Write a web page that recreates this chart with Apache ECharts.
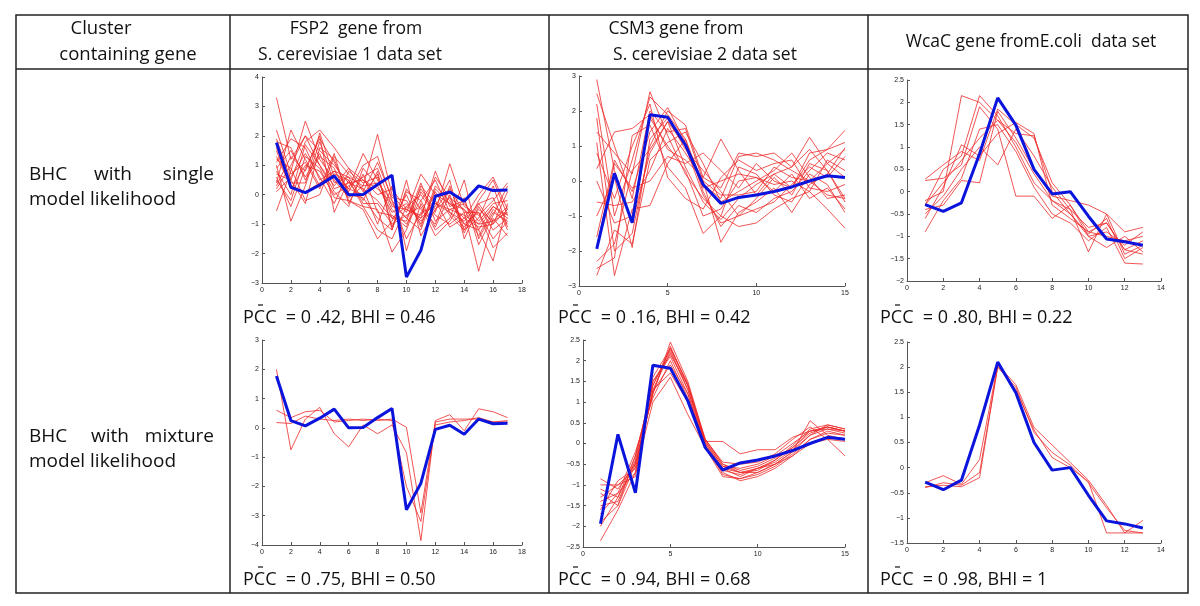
<!DOCTYPE html>
<html><head><meta charset="utf-8">
<script src="https://cdn.jsdelivr.net/npm/echarts@6/dist/echarts.min.js"></script>
<style>html,body{margin:0;padding:0;background:#fff}#c{width:1200px;height:606px}</style>
</head><body><div id="c"></div>
<script>
// ---------- DATA ----------
const fsp2Blue = [1.77, 0.25, 0.07, 0.33, 0.64, 0.0, 0.01, 0.35, 0.66, -2.8, -1.89, -0.05, 0.09, -0.22, 0.3, 0.14, 0.16];
const csm3Blue = [-1.94, 0.22, -1.19, 1.89, 1.82, 1.03, -0.1, -0.64, -0.47, -0.4, -0.3, -0.17, 0.0, 0.15, 0.1];
const wcacBlue = [-0.29, -0.44, -0.25, 0.85, 2.1, 1.49, 0.5, -0.05, 0.0, -0.55, -1.06, -1.12, -1.2];

const fsp2SingleRed = [
  [3.3, 1.2, 2.0, 1.5, 1.0, 0.4, 0.2, -0.2, -0.8, -0.4, -0.8, -0.3, -0.6, -1.1, -0.5, -0.9, -0.6],
  [1.9, 0.5, 1.8, 2.2, 1.6, 0.9, 0.5, 0.2, -0.3, -0.8, 0.2, -0.5, -0.1, -0.5, -1.0, -0.4, -0.8],
  [0.4, 2.2, 1.2, 0.3, 0.8, 0.2, 1.4, 0.5, -0.5, -1.0, -0.2, 0.5, -0.6, -0.9, -0.3, -1.0, -0.5],
  [-0.55, 0.8, 2.5, 1.2, 0.5, -0.1, 0.3, 2.05, 0.0, -0.6, 0.7, 0.0, -0.3, -0.5, -1.4, -0.5, -1.0],
  [1.0, -0.9, 0.3, 1.8, 0.4, 0.6, -0.2, 0.8, -1.2, 0.2, -0.5, -1.0, 0.3, -1.2, -0.2, 0.5, -0.7],
  [0.7, 0.5, -0.3, 1.6, 1.2, 0.0, -0.1, -0.8, -1.2, 0.5, -1.4, -0.5, 0.2, -0.6, -2.6, -0.8, -1.4],
  [1.5, 0.2, 1.0, 0.8, 0.0, 0.3, 0.6, 0.9, -0.4, -0.5, -0.8, 0.8, -0.4, -0.2, -1.2, -2.25, -0.3],
  [0.3, 1.3, 0.8, 2.0, -0.6, 0.5, -0.4, -0.5, -1.95, -1.2, 0.1, -0.6, 1.05, -0.4, -0.7, -0.2, 0.4],
  [1.2, 0.9, -0.2, 0.0, 1.3, 0.7, 0.2, -1.0, 0.3, -1.9, -0.3, -1.2, -0.8, 0.5, -1.5, -0.6, -0.9],
  [0.8, 0.0, 1.7, 1.0, 0.1, -0.4, 0.9, 0.3, -0.6, -0.3, -0.9, -0.2, -1.1, -0.8, 0.0, 0.6, -0.5],
  [1.8, 1.6, 0.5, 1.3, 0.9, -0.2, -0.5, -1.5, -0.9, 0.0, -1.1, 0.3, -0.2, -1.0, -0.6, -1.8, -1.3],
  [0.1, 0.6, 1.4, 0.6, -0.3, 0.8, 0.4, 0.6, -0.8, -0.9, 0.4, -0.9, -0.5, -0.3, -0.9, -0.3, -0.2],
  [0.6, -0.4, 0.9, 1.9, 1.1, 0.1, 1.0, 1.3, -0.2, -1.5, -0.6, -0.4, 0.5, -1.5, -0.4, -1.2, -0.8],
  [1.3, 0.3, 0.1, 0.4, 0.7, 0.5, -0.3, -0.3, -1.0, -0.7, -0.4, -1.4, -0.9, -0.1, -1.7, -0.7, 0.3],
  [0.2, 1.0, 2.0, 1.0, 0.3, 0.9, 0.1, 1.1, -0.1, -0.2, -1.0, 0.1, -0.7, -1.2, -0.8, 0.3, -1.1],
  [2.2, 0.7, 1.1, 0.2, 1.4, -0.3, 0.7, -0.6, -0.7, -1.1, 0.3, -0.3, -0.5, -0.7, -1.0, -0.9, -0.4],
  [0.9, 1.5, 0.6, 1.4, 0.2, 0.4, 0.5, 0.0, 0.2, -0.5, -0.7, 0.6, -0.1, -1.0, -1.2, -0.4, -0.7],
  [0.5, -0.2, 1.3, 0.9, -0.1, -0.2, -0.4, -1.2, -1.5, -0.4, 0.0, -0.7, -1.0, -0.6, -0.6, -1.5, -0.9],
  [1.6, 0.4, 0.4, 2.1, 0.6, 0.2, 0.0, 0.7, -1.1, 0.1, -0.2, -1.1, 0.0, -1.3, -0.3, -0.1, -1.2],
  [1.1, 1.9, 1.6, 0.5, 0.8, 0.6, 0.3, 0.4, -0.2, -0.8, -1.2, 0.2, -0.3, -0.8, -1.1, -1.0, 0.1]
];
const csm3SingleRed = [
  [2.9, 0.3, -1.2, 0.8, 1.7, 0.4, -0.6, -1.1, -0.5, -0.1, 0.2, 0.4, 0.9, 0.3, -0.5],
  [2.2, -1.0, 0.6, 2.4, 1.9, 1.2, -0.1, -0.5, 0.7, 0.8, 0.6, 0.3, 0.0, 0.5, 0.9],
  [1.8, -2.0, -1.5, 1.0, 2.0, 1.6, 0.1, 1.2, 0.3, -0.4, 0.2, -0.2, 0.6, 0.9, 1.45],
  [1.4, 0.8, 0.2, 2.55, 1.3, 0.2, -0.5, -1.0, -1.3, -1.2, -0.8, -0.5, -0.3, -0.8, -1.35],
  [0.35, 1.4, 1.5, 1.9, 0.9, 0.6, 0.1, -0.2, 0.8, 0.7, 0.8, 0.4, 1.25, 0.5, 0.1],
  [-0.6, -0.7, -0.6, 0.3, 1.5, 0.8, 0.0, -1.75, -0.9, -0.6, -0.2, -0.9, -0.1, 0.2, 0.95],
  [-1.6, 0.6, -0.3, 1.4, 2.1, 1.1, -0.2, 0.0, 0.2, 0.1, -0.1, 0.0, -0.3, 0.6, 0.3],
  [-2.5, -2.2, 1.3, 1.6, 0.4, -0.2, -1.5, -1.0, 0.4, 0.2, -0.4, -0.6, 0.2, -0.1, -0.9],
  [-2.7, -1.4, -1.8, 0.6, 1.1, 1.4, 0.5, -0.6, -0.3, 0.0, 0.3, 0.8, 0.1, -0.5, -0.4],
  [1.1, -2.7, -0.8, -0.7, 0.5, 1.2, -0.3, -1.3, -0.7, -0.9, -0.5, -0.3, 0.3, 0.8, 0.6],
  [-1.0, 0.1, -1.9, 1.2, 1.8, 0.9, 0.3, -0.3, -1.0, -0.5, 0.1, -0.4, 0.5, 0.3, -0.6],
  [0.8, -0.5, 1.0, 2.2, 0.1, -0.5, -0.8, 0.1, 0.6, 0.3, 0.5, 0.6, -0.2, -0.3, -0.1],
  [-2.3, -1.8, 0.3, 0.9, 1.7, 1.0, -0.4, -1.2, -1.0, -0.8, -0.6, -0.1, 0.4, 0.1, 0.7],
  [0.0, -1.2, -1.0, 1.8, 1.0, 0.3, -1.0, -0.8, 0.0, 0.1, -0.3, 0.2, -0.5, -0.2, -0.8],
  [-1.9, 0.5, -0.2, 0.0, 0.7, 0.5, 0.8, 0.3, -0.2, 0.5, 0.0, -0.2, 0.8, 0.9, 1.1],
  [2.5, 1.0, -0.5, 2.0, 1.4, 1.5, 0.0, -0.4, -0.4, -0.3, 0.4, 0.1, 0.0, -0.4, -0.5]
];
const wcacSingleRed = [
  [0.28, 0.6, 0.9, 0.7, 1.85, 1.5, 1.2, 0.2, -0.3, -0.9, -0.7, -1.3, -1.4],
  [-0.2, 0.0, 2.15, 2.0, 1.6, 1.3, 1.25, 0.0, -0.5, -1.0, -0.9, -1.2, -0.9],
  [-0.3, 0.5, 0.8, 2.15, 1.7, 1.0, 0.2, -0.2, -0.4, -1.35, -0.5, -1.4, -1.2],
  [-0.6, 0.1, 1.05, 0.8, 1.3, 1.55, 1.3, -0.3, -0.6, -0.9, -1.0, -1.1, -1.0],
  [-0.9, -0.2, 0.3, 1.4, 1.5, 0.9, 0.1, -0.5, -0.7, -1.1, -0.8, -1.6, -1.62],
  [-0.4, -0.3, 0.25, 0.2, 1.8, 1.2, 0.5, -0.1, -0.2, -0.3, -0.5, -0.9, -0.8],
  [0.25, 0.3, 0.6, 1.9, 1.4, -0.1, -0.1, -0.6, -0.3, -1.0, -1.25, -1.0, -1.35],
  [-0.5, -0.1, 0.5, 1.0, 0.6, 1.4, 0.8, 0.1, -0.4, -0.8, -0.7, -1.3, -1.1],
  [-0.3, 0.2, 0.7, 1.2, 1.6, 1.1, 0.4, -0.2, -0.5, -0.95, -0.6, -1.5, -1.25]
];
const fsp2MixtureRed = [
  [2.0, -0.75, 0.3, 0.7, -0.2, -0.65, 0.1, -0.2, 0.1, -0.85, -3.85, 0.25, 0.45, -0.1, 0.65, 0.55, 0.35],
  [0.6, 0.35, 0.55, 0.6, 0.2, 0.25, 0.3, 0.25, 0.3, 0.02, -2.9, 0.2, 0.3, 0.3, 0.3, 0.2, 0.25],
  [0.18, 0.15, 0.4, 0.3, 0.25, 0.3, 0.25, 0.3, 0.25, -2.0, -3.2, 0.1, 0.2, 0.25, 0.35, 0.2, 0.2]
];
const csm3MixtureRed = [
  [-0.85, -1.1, -0.5, 1.2, 2.45, 1.5, 0.1, -0.5, -0.7, -0.6, -0.4, -0.1, 0.3, 0.4, 0.3],
  [-1.1, -1.3, -0.3, 1.4, 2.3, 1.4, 0.0, -0.6, -0.8, -0.6, -0.5, -0.2, 0.2, 0.45, 0.35],
  [-1.3, -1.0, -0.6, 1.3, 2.2, 1.3, 0.05, -0.55, -0.6, -0.5, -0.3, 0.0, 0.3, 0.35, 0.3],
  [-1.5, -1.4, -0.4, 1.5, 2.1, 1.2, -0.1, -0.7, -0.9, -0.8, -0.6, -0.3, 0.1, 0.3, 0.2],
  [-1.7, -1.2, -0.2, 1.1, 2.0, 1.1, 0.0, -0.6, -0.7, -0.7, -0.5, -0.2, 0.55, 0.2, 0.1],
  [-2.35, -1.6, -0.7, 1.0, 1.6, 0.7, -0.1, -0.8, -0.85, -0.7, -0.5, -0.3, 0.0, 0.1, -0.3],
  [-1.9, -1.5, -0.5, 1.2, 2.35, 1.4, 0.05, 0.05, -0.25, -0.15, -0.15, 0.15, 0.3, 0.4, 0.3],
  [-1.4, -1.2, -0.7, 1.3, 1.7, 1.0, 0.1, -0.45, -0.5, -0.45, -0.25, 0.1, 0.4, 0.1, 0.05],
  [-1.2, -1.5, -0.3, 1.4, 2.25, 1.3, -0.05, -0.65, -0.75, -0.6, -0.45, -0.15, 0.2, 0.35, 0.25],
  [-1.6, -0.9, -0.6, 1.5, 2.15, 1.4, 0.1, -0.5, -0.65, -0.55, -0.35, -0.1, 0.25, 0.4, 0.3],
  [-2.0, -1.3, -0.45, 1.25, 1.9, 1.2, -0.05, -0.75, -0.85, -0.75, -0.55, -0.25, 0.1, 0.25, 0.2],
  [-1.0, -1.0, -0.8, 1.6, 2.3, 1.45, 0.05, -0.55, -0.7, -0.65, -0.4, -0.05, 0.35, 0.45, 0.35]
];
const wcacMixtureRed = [
  [-0.3, -0.16, -0.33, 0.16, 2.05, 1.65, 0.8, 0.45, 0.1, -0.25, -0.75, -1.3, -1.05],
  [-0.4, -0.3, -0.35, -0.1, 2.0, 1.6, 0.7, 0.3, 0.05, -0.3, -0.8, -1.25, -1.3],
  [-0.38, -0.35, -0.38, -0.2, 2.02, 1.55, 0.75, 0.2, 0.0, -0.28, -1.3, -1.3, -1.3]
];

const headerTexts = ['Cluster', 'containing gene', 'FSP2  gene from', 'S. cerevisiae 1 data set',
  'CSM3 gene from', 'S. cerevisiae 2 data set', 'WcaC gene fromE.coli  data set'];
const pccLabels = ['PCC  = 0 .42, BHI = 0.46', 'PCC  = 0 .16, BHI = 0.42', 'PCC  = 0 .80, BHI = 0.22',
  'PCC  = 0 .75, BHI = 0.50', 'PCC  = 0 .94, BHI = 0.68', 'PCC  = 0 .98, BHI = 1'];

// ---------- LAYOUT ----------
const panels = [
  {g:{left:262, top:77, width:260, height:206}, xMax:18, xInt:2, yMin:-3, yMax:4, yInt:1, red:fsp2SingleRed, blue:fsp2Blue},
  {g:{left:579, top:76, width:266, height:210}, xMax:15, xInt:5, yMin:-3, yMax:3, yInt:1, red:csm3SingleRed, blue:csm3Blue},
  {g:{left:907, top:80, width:254, height:201}, xMax:14, xInt:2, yMin:-2, yMax:2.5, yInt:0.5, red:wcacSingleRed, blue:wcacBlue},
  {g:{left:262, top:340, width:260, height:205}, xMax:18, xInt:2, yMin:-4, yMax:3, yInt:1, red:fsp2MixtureRed, blue:fsp2Blue},
  {g:{left:583, top:340, width:262, height:207}, xMax:15, xInt:5, yMin:-2.5, yMax:2.5, yInt:0.5, red:csm3MixtureRed, blue:csm3Blue},
  {g:{left:907, top:342, width:254, height:201}, xMax:14, xInt:2, yMin:-1.5, yMax:2.5, yInt:0.5, red:wcacMixtureRed, blue:wcacBlue}
];

const toPts = arr => arr.map((v, i) => [i + 1, v]);
const axisCommon = {
  axisLine:{show:true, onZero:false, lineStyle:{color:'#555', width:1}},
  axisTick:{show:true, inside:true, length:3, lineStyle:{color:'#555'}},
  axisLabel:{fontSize:7, color:'#222', fontFamily:'Liberation Sans, Arial, sans-serif'},
  splitLine:{show:false}
};
const grids = [], xAxes = [], yAxes = [], series = [];
panels.forEach((p, k) => {
  grids.push(Object.assign({containLabel:false}, p.g));
  xAxes.push(Object.assign({}, axisCommon, {type:'value', gridIndex:k, min:0, max:p.xMax, interval:p.xInt,
    axisLabel:Object.assign({}, axisCommon.axisLabel, {margin:4})}));
  yAxes.push(Object.assign({}, axisCommon, {type:'value', gridIndex:k, min:p.yMin, max:p.yMax, interval:p.yInt,
    axisLabel:Object.assign({}, axisCommon.axisLabel, {margin:3, formatter:v => String(v).replace('-', '\u2212')})}));
  p.red.forEach(r => series.push({type:'line', xAxisIndex:k, yAxisIndex:k, data:toPts(r), symbol:'none',
    lineStyle:{color:'#ee2a2a', width:0.8}, silent:true, z:2}));
  series.push({type:'line', xAxisIndex:k, yAxisIndex:k, data:toPts(p.blue), symbol:'none',
    lineStyle:{color:'#0a14dc', width:3}, silent:true, z:3});
});

// ---------- TABLE GRAPHICS ----------
const FONT = '"Open Sans", "Noto Sans", sans-serif';
const txt = (t, x, y, size, align) => ({type:'text', x:x, y:y, style:{text:t, fill:'#111',
  font:size + 'px ' + FONT, textAlign:align || 'left', textVerticalAlign:'middle'}});
const ln = (x1, y1, x2, y2) => ({type:'line', shape:{x1, y1, x2, y2}, style:{stroke:'#222', lineWidth:1.5}});
const graphic = [
  {type:'rect', shape:{x:16, y:15, width:1172, height:578}, style:{fill:'none', stroke:'#222', lineWidth:1.5}},
  ln(16, 69, 1188, 69), ln(230, 15, 230, 593), ln(549, 15, 549, 593), ln(868, 15, 868, 593),
  txt(headerTexts[0], 101, 29, 18.5, 'center'),
  txt(headerTexts[1], 128, 55, 18.5, 'center'),
  txt(headerTexts[2], 356, 29, 17.5, 'center'),
  txt(headerTexts[3], 350, 55, 17.5, 'center'),
  txt(headerTexts[4], 676, 29, 17.5, 'center'),
  txt(headerTexts[5], 705, 55, 17.5, 'center'),
  txt(headerTexts[6], 1031, 42, 17.5, 'center'),
  txt('BHC', 29, 175, 19), txt('with', 113, 175, 19, 'center'), txt('single', 214, 175, 19, 'right'),
  txt('model likelihood', 29, 200, 19),
  txt('BHC', 29, 437, 19), txt('with', 110, 437, 19, 'center'), txt('mixture', 214, 437, 19, 'right'),
  txt('model likelihood', 29, 462, 19)
];
const pccPos = [[243, 318], [558, 318], [880, 318], [243, 580], [558, 580], [880, 580]];
pccPos.forEach((pp, i) => {
  graphic.push(txt(pccLabels[i], pp[0], pp[1], 18));
  graphic.push({type:'line', shape:{x1:pp[0] + 15, y1:pp[1] - 13, x2:pp[0] + 20, y2:pp[1] - 13},
    style:{stroke:'#111', lineWidth:1.2}});
});

const chart = echarts.init(document.getElementById('c'), null, {renderer:'canvas'});
chart.setOption({
  backgroundColor:'#fff', animation:false,
  grid:grids, xAxis:xAxes, yAxis:yAxes, series:series, graphic:graphic
});
</script></body></html>
